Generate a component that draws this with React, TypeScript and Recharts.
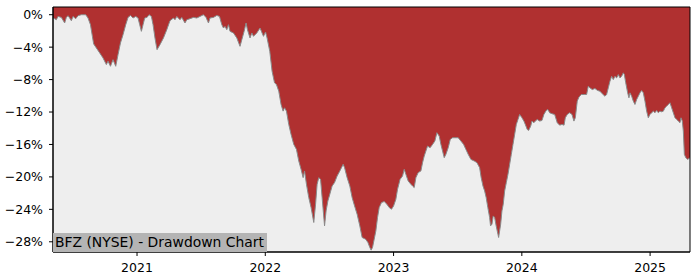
import { AreaChart, Area, XAxis, YAxis, CartesianGrid, ReferenceArea } from 'recharts'

// decimal year of each sample
const years = [
  2020.345, 2020.371, 2020.384, 2020.410, 2020.436, 2020.449, 2020.462, 2020.475, 2020.488, 2020.501,
  2020.522, 2020.540, 2020.566, 2020.600, 2020.618, 2020.637, 2020.652, 2020.662, 2020.683, 2020.709,
  2020.735, 2020.761, 2020.774, 2020.793, 2020.813, 2020.834, 2020.852, 2020.871, 2020.891, 2020.912,
  2020.930, 2020.949, 2020.969, 2020.990, 2021.008, 2021.021, 2021.034, 2021.047, 2021.060, 2021.078,
  2021.094, 2021.112, 2021.125, 2021.140, 2021.156, 2021.179, 2021.206, 2021.232, 2021.257, 2021.284,
  2021.296, 2021.310, 2021.335, 2021.349, 2021.374, 2021.388, 2021.413, 2021.440, 2021.466, 2021.491,
  2021.518, 2021.538, 2021.557, 2021.569, 2021.596, 2021.622, 2021.643, 2021.661, 2021.674, 2021.686,
  2021.700, 2021.713, 2021.725, 2021.752, 2021.778, 2021.803, 2021.817, 2021.835, 2021.850, 2021.861,
  2021.881, 2021.895, 2021.908, 2021.934, 2021.959, 2021.986, 2022.002, 2022.014, 2022.035, 2022.053,
  2022.072, 2022.087, 2022.105, 2022.123, 2022.139, 2022.150, 2022.165, 2022.183, 2022.201, 2022.222,
  2022.243, 2022.261, 2022.279, 2022.295, 2022.306, 2022.321, 2022.339, 2022.357, 2022.378, 2022.392,
  2022.404, 2022.417, 2022.431, 2022.443, 2022.462, 2022.474, 2022.488, 2022.503, 2022.521, 2022.540,
  2022.560, 2022.581, 2022.607, 2022.618, 2022.638, 2022.659, 2022.677, 2022.696, 2022.716, 2022.737,
  2022.755, 2022.782, 2022.800, 2022.815, 2022.825, 2022.836, 2022.849, 2022.862, 2022.875, 2022.888,
  2022.906, 2022.927, 2022.948, 2022.966, 2022.984, 2023.000, 2023.018, 2023.031, 2023.051, 2023.070,
  2023.083, 2023.096, 2023.114, 2023.135, 2023.148, 2023.161, 2023.174, 2023.192, 2023.213, 2023.226,
  2023.239, 2023.252, 2023.265, 2023.285, 2023.304, 2023.322, 2023.338, 2023.356, 2023.369, 2023.382,
  2023.395, 2023.408, 2023.426, 2023.442, 2023.460, 2023.486, 2023.504, 2023.525, 2023.546, 2023.564,
  2023.582, 2023.603, 2023.629, 2023.650, 2023.671, 2023.683, 2023.697, 2023.710, 2023.722, 2023.735,
  2023.749, 2023.756, 2023.767, 2023.777, 2023.788, 2023.800, 2023.808, 2023.819, 2023.827, 2023.835,
  2023.845, 2023.855, 2023.866, 2023.879, 2023.892, 2023.905, 2023.918, 2023.931, 2023.944, 2023.957,
  2023.970, 2023.983, 2024.001, 2024.016, 2024.027, 2024.042, 2024.053, 2024.069, 2024.079, 2024.094,
  2024.105, 2024.120, 2024.139, 2024.157, 2024.172, 2024.190, 2024.203, 2024.217, 2024.235, 2024.256,
  2024.276, 2024.295, 2024.313, 2024.329, 2024.339, 2024.354, 2024.373, 2024.391, 2024.406, 2024.417,
  2024.432, 2024.445, 2024.463, 2024.490, 2024.505, 2024.518, 2024.531, 2024.549, 2024.570, 2024.591,
  2024.609, 2024.627, 2024.648, 2024.661, 2024.674, 2024.687, 2024.700, 2024.713, 2024.726, 2024.739,
  2024.752, 2024.765, 2024.778, 2024.791, 2024.799, 2024.810, 2024.825, 2024.835, 2024.843, 2024.856,
  2024.869, 2024.882, 2024.895, 2024.908, 2024.921, 2024.934, 2024.947, 2024.960, 2024.973, 2024.986,
  2024.999, 2025.012, 2025.025, 2025.038, 2025.051, 2025.064, 2025.077, 2025.090, 2025.103, 2025.116,
  2025.129, 2025.142, 2025.155, 2025.168, 2025.181, 2025.194, 2025.207, 2025.220, 2025.233, 2025.241,
  2025.251, 2025.259, 2025.267, 2025.278, 2025.293, 2025.311,
]

// drawdown from the running peak, in percent
const drawdown = [
  -0.37, -0.62, -0.21, -0.33, -1.02, -0.33, -0.12, -0.41, -0.74, -0.21,
  -0.49, -0.12, 0, 0, -0.41, -1.23, -2.67, -3.6, -4.1, -4.71,
  -5.33, -6.15, -5.74, -6.36, -5.54, -6.36, -4.92, -3.48, -2.46, -1.23,
  -0.33, -0.09, -0.41, -0.21, -0.41, -1.23, -2.05, -1.23, -0.41, -0.33,
  0, -0.21, -1.23, -2.87, -4.31, -3.69, -2.87, -1.85, -0.74, -0.41,
  -0.62, -0.21, -0.62, -0.33, -1.02, -0.62, -0.49, -0.33, -0.41, -0.21,
  0, -0.33, -1.02, -0.41, -0.33, -0.09, -0.21, -1.23, -1.64, -1.44,
  -1.85, -1.23, -2.05, -2.25, -2.87, -3.9, -3.08, -2.05, -1.02, -1.85,
  -2.87, -2.25, -2.67, -2.25, -1.64, -2.67, -2.13, -2.87, -4.51, -6.97,
  -8.4, -8.61, -9.43, -11.07, -11.89, -11.48, -11.89, -13.53, -14.76, -15.99,
  -16.61, -18.04, -19.07, -20.09, -19.27, -20.91, -22.55, -23.78, -25.62, -23.37,
  -20.91, -20.09, -20.3, -22.55, -26.04, -24.19, -22.96, -22.14, -21.12, -20.7,
  -19.89, -19.27, -18.45, -18.86, -20.09, -21.12, -22.55, -23.58, -24.6, -26.04,
  -27.47, -27.68, -28.08, -28.7, -29.03, -28.7, -27.68, -26.65, -25.01, -23.78,
  -23.16, -23.04, -23.37, -23.78, -23.99, -23.58, -22.76, -21.53, -20.3, -19.89,
  -19.07, -19.68, -20.5, -20.91, -21.12, -21.32, -20.09, -19.47, -19.27, -18.24,
  -17.43, -16.81, -16.2, -16.4, -15.99, -15.58, -14.55, -14.97, -15.99, -16.81,
  -17.63, -17.22, -16.4, -15.38, -15.17, -15.17, -15.17, -15.58, -15.99, -16.61,
  -17.22, -17.84, -18.04, -18.24, -18.86, -20.09, -21.12, -21.73, -22.55, -23.78,
  -25.01, -26.04, -25.83, -24.81, -25.01, -26.04, -26.65, -27.47, -26.65, -25.83,
  -24.19, -23.37, -21.73, -20.7, -19.68, -18.45, -17.22, -15.99, -14.76, -13.53,
  -12.92, -12.3, -12.71, -13.12, -13.53, -14.15, -14.27, -13.74, -13.12, -13.32,
  -13.12, -12.92, -13.12, -13.04, -12.3, -11.81, -11.69, -12.09, -12.21, -12.3,
  -13.32, -13.62, -13.53, -13.62, -12.71, -12.3, -12.09, -12.3, -13.12, -12.71,
  -10.66, -10.17, -9.84, -9.84, -9.84, -8.82, -9.02, -9.23, -9.1, -9.35,
  -9.43, -9.75, -10.05, -9.84, -9.02, -8.2, -7.59, -8.0, -7.59, -7.79,
  -7.38, -7.79, -7.59, -7.17, -7.38, -8.4, -9.63, -10.25, -9.63, -10.05,
  -10.66, -11.07, -10.46, -10.05, -9.63, -9.35, -9.63, -10.66, -11.89, -12.71,
  -12.3, -12.09, -11.89, -12.09, -11.81, -12.09, -11.89, -11.97, -11.89, -11.48,
  -11.28, -11.07, -10.86, -11.48, -12.09, -12.71, -12.92, -13.12, -13.32, -12.71,
  -13.12, -14.35, -17.22, -17.63, -17.84, -17.63,
]

const yearTicks = [2021, 2022, 2023, 2024, 2025]
const pctTicks = [0, -4, -8, -12, -16, -20, -24, -28]
const title = 'BFZ (NYSE) - Drawdown Chart'

const data = years.map((t, i) => ({ t, dd: drawdown[i] }))

const X_DOMAIN: [number, number] = [2020.345, 2025.311]
const Y_DOMAIN: [number, number] = [-29.26, 0.95]

const FONT = '"DejaVu Sans", sans-serif'
const tickStyle = { fontSize: 12.5, fill: '#000', fontFamily: FONT }

const fmtPct = (v: number) => (v === 0 ? '0%' : `\u2212${Math.abs(v)}%`)

export default function App() {
  return (
    <div style={{ position: 'absolute', left: 0, top: 0, width: 700, height: 280, background: '#fff' }}>
      <AreaChart width={700} height={280} data={data} margin={{ top: 7, right: 10, bottom: 0, left: 0 }}>
        <CartesianGrid horizontal={false} vertical={false} fill="#b03030" fillOpacity={1} />
        <XAxis
          dataKey="t"
          type="number"
          domain={X_DOMAIN}
          ticks={yearTicks}
          allowDataOverflow
          height={28}
          tickSize={4}
          tickMargin={7}
          tick={tickStyle}
          stroke="#000"
          tickLine={{ stroke: '#000' }}
        />
        <YAxis
          type="number"
          domain={Y_DOMAIN}
          ticks={pctTicks}
          allowDataOverflow
          width={53}
          tickSize={4}
          tickMargin={6}
          tickFormatter={fmtPct}
          tick={tickStyle}
          stroke="#000"
          tickLine={{ stroke: '#000' }}
        />
        <Area
          type="linear"
          dataKey="dd"
          baseValue={Y_DOMAIN[0]}
          fill="#eeeeee"
          fillOpacity={1}
          stroke="#8a8a8a"
          strokeWidth={1}
          dot={false}
          activeDot={false}
          isAnimationActive={false}
        />
        <ReferenceArea
          x1={X_DOMAIN[0]}
          x2={X_DOMAIN[1]}
          y1={Y_DOMAIN[0]}
          y2={Y_DOMAIN[1]}
          fill="none"
          fillOpacity={0}
          stroke="#000"
          strokeWidth={1}
        />
      </AreaChart>
      <div
        style={{
          position: 'absolute',
          left: 53,
          top: 233,
          width: 214,
          height: 19,
          lineHeight: '19px',
          paddingLeft: 2,
          boxSizing: 'border-box',
          background: '#b4b4b4',
          color: '#000',
          fontFamily: FONT,
          fontSize: 13.9,
          whiteSpace: 'nowrap',
        }}
      >
        {title}
      </div>
    </div>
  )
}
